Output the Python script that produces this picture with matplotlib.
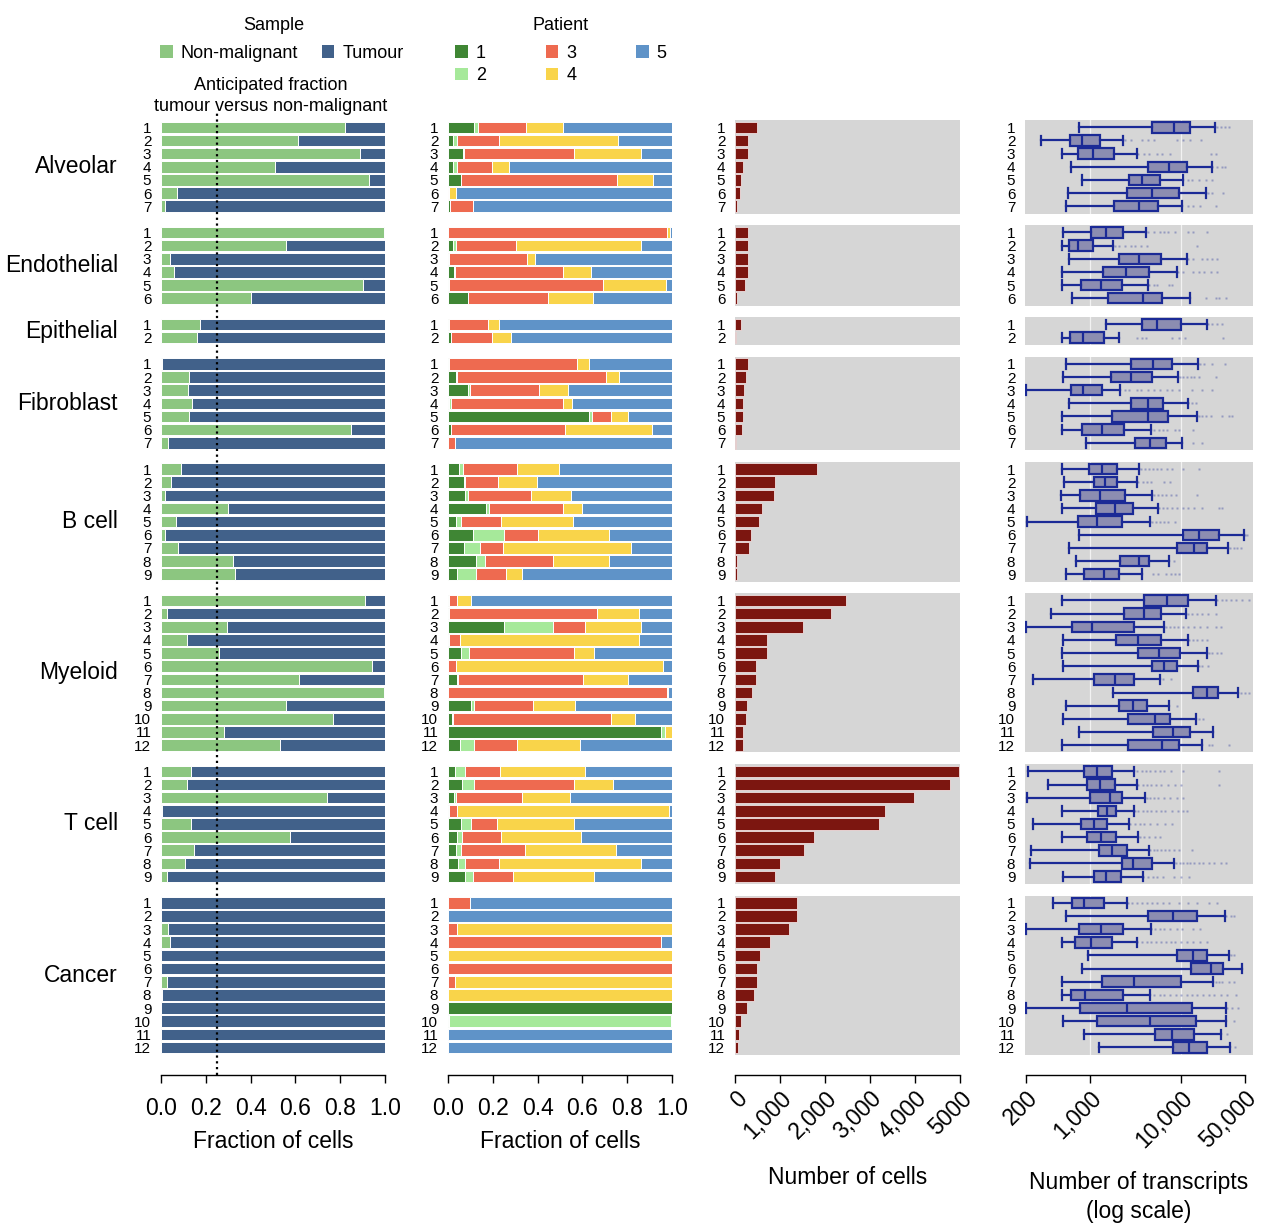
import numpy as np
import matplotlib
matplotlib.use('Agg')
import matplotlib.pyplot as plt
from matplotlib.patches import Patch
from matplotlib.ticker import FixedLocator, NullLocator, FixedFormatter

plt.rcParams['font.family'] = ['Liberation Sans', 'DejaVu Sans']

# ---------------- data ----------------
groups = ['Alveolar', 'Endothelial', 'Epithelial', 'Fibroblast', 'B cell', 'Myeloid', 'T cell', 'Cancer']
sample_labels = ['Non-malignant', 'Tumour']
patient_labels = ['1', '2', '3', '4', '5']
anticipated_fraction = 0.25

nonmalignant_frac = {
    'Alveolar': [0.82, 0.61, 0.89, 0.51, 0.93, 0.07, 0.02],
    'Endothelial': [0.995, 0.56, 0.04, 0.06, 0.90, 0.40],
    'Epithelial': [0.175, 0.16],
    'Fibroblast': [0.005, 0.125, 0.12, 0.14, 0.125, 0.85, 0.03],
    'B cell': [0.088, 0.046, 0.02, 0.30, 0.065, 0.02, 0.076, 0.32, 0.33],
    'Myeloid': [0.91, 0.025, 0.296, 0.118, 0.26, 0.94, 0.615, 0.995, 0.56, 0.77, 0.283, 0.533],
    'T cell': [0.135, 0.116, 0.74, 0.004, 0.132, 0.577, 0.147, 0.109, 0.025],
    'Cancer': [0.0, 0.0, 0.031, 0.039, 0.0, 0.0, 0.027, 0.004, 0.0, 0.0, 0.0, 0.0],
}

# fraction of cells from patients 1..5
patient_frac = {
    'Alveolar': [[0.118, 0.016, 0.214, 0.164, 0.488], [0.021, 0.021, 0.184, 0.533, 0.241],
                 [0.068, 0.004, 0.492, 0.296, 0.140], [0.022, 0.020, 0.154, 0.076, 0.728],
                 [0.060, 0.0, 0.696, 0.161, 0.083], [0.0, 0.0, 0.005, 0.029, 0.966],
                 [0.009, 0.0, 0.104, 0.0, 0.887]],
    'Endothelial': [[0.0, 0.0, 0.979, 0.012, 0.009], [0.022, 0.014, 0.269, 0.555, 0.140],
                    [0.003, 0.0, 0.348, 0.037, 0.612], [0.028, 0.004, 0.480, 0.125, 0.363],
                    [0.003, 0.0, 0.690, 0.280, 0.027], [0.091, 0.0, 0.357, 0.198, 0.354]],
    'Epithelial': [[0.003, 0.0, 0.177, 0.049, 0.771], [0.013, 0.0, 0.185, 0.082, 0.720]],
    'Fibroblast': [[0.003, 0.0, 0.571, 0.054, 0.372], [0.036, 0.006, 0.663, 0.060, 0.235],
                   [0.091, 0.007, 0.310, 0.129, 0.463], [0.003, 0.010, 0.499, 0.042, 0.446],
                   [0.628, 0.013, 0.087, 0.074, 0.198], [0.012, 0.0, 0.509, 0.390, 0.089],
                   [0.0, 0.0, 0.033, 0.0, 0.967]],
    'B cell': [[0.051, 0.017, 0.242, 0.187, 0.503], [0.070, 0.008, 0.144, 0.174, 0.604],
               [0.076, 0.015, 0.278, 0.179, 0.452], [0.168, 0.015, 0.329, 0.086, 0.402],
               [0.036, 0.021, 0.181, 0.319, 0.443], [0.110, 0.139, 0.153, 0.317, 0.281],
               [0.070, 0.074, 0.103, 0.568, 0.185], [0.124, 0.043, 0.300, 0.252, 0.281],
               [0.042, 0.082, 0.135, 0.070, 0.671]],
    'Myeloid': [[0.003, 0.0, 0.037, 0.061, 0.899], [0.003, 0.0, 0.664, 0.184, 0.149],
                [0.251, 0.216, 0.143, 0.250, 0.140], [0.003, 0.0, 0.052, 0.796, 0.149],
                [0.057, 0.038, 0.466, 0.089, 0.350], [0.0, 0.0, 0.037, 0.921, 0.042],
                [0.042, 0.003, 0.559, 0.201, 0.195], [0.0, 0.0, 0.978, 0.004, 0.018],
                [0.104, 0.012, 0.265, 0.184, 0.435], [0.019, 0.005, 0.702, 0.109, 0.165],
                [0.952, 0.018, 0.0, 0.030, 0.0], [0.052, 0.066, 0.192, 0.278, 0.412]],
    'T cell': [[0.033, 0.041, 0.158, 0.378, 0.390], [0.061, 0.057, 0.444, 0.176, 0.262],
               [0.028, 0.007, 0.294, 0.214, 0.457], [0.003, 0.0, 0.039, 0.943, 0.015],
               [0.057, 0.046, 0.114, 0.344, 0.439], [0.042, 0.022, 0.173, 0.355, 0.408],
               [0.036, 0.024, 0.282, 0.409, 0.249], [0.046, 0.031, 0.152, 0.634, 0.137],
               [0.074, 0.036, 0.182, 0.360, 0.348]],
    'Cancer': [[0.0, 0.0, 0.10, 0.0, 0.90], [0.0, 0.0, 0.0, 0.0, 1.0],
               [0.0, 0.0, 0.039, 0.961, 0.0], [0.0, 0.0, 0.951, 0.0, 0.049],
               [0.0, 0.0, 0.0, 1.0, 0.0], [0.0, 0.0, 1.0, 0.0, 0.0],
               [0.0, 0.0, 0.030, 0.970, 0.0], [0.0, 0.0, 0.0, 1.0, 0.0],
               [1.0, 0.0, 0.0, 0.0, 0.0], [0.005, 0.990, 0.0, 0.0, 0.005],
               [0.0, 0.0, 0.0, 0.0, 1.0], [0.0, 0.0, 0.0, 0.0, 1.0]],
}

n_cells = {
    'Alveolar': [496, 281, 281, 170, 133, 104, 37],
    'Endothelial': [296, 296, 281, 281, 215, 52],
    'Epithelial': [126, 15],
    'Fibroblast': [281, 237, 207, 185, 170, 148, 22],
    'B cell': [1815, 881, 859, 593, 526, 348, 319, 52, 52],
    'Myeloid': [2459, 2141, 1504, 704, 704, 459, 459, 378, 267, 237, 170, 170],
    'T cell': [4970, 4778, 3985, 3326, 3193, 1763, 1526, 1000, 889],
    'Cancer': [1370, 1370, 1193, 778, 563, 481, 481, 430, 274, 126, 96, 67],
}

# (whisker low, Q1, median, Q3, whisker high) of number of transcripts
transcripts_box = {
    'Alveolar': [(755, 4840, 8420, 12500, 23500), (292, 606, 814, 1290, 2330), (500, 736, 1094, 1841, 3260),
                 (622, 4300, 7360, 11500, 21600), (828, 2660, 3730, 5870, 10400), (572, 2570, 4760, 9400, 18600),
                 (553, 1841, 3430, 5620, 10100)],
    'Endothelial': [(508, 1030, 1517, 2310, 4160), (500, 592, 736, 1075, 1795), (597, 2100, 3430, 6070, 11700),
                    (500, 1406, 2510, 4410, 8930), (500, 794, 1336, 2230, 4300), (638, 1596, 3790, 6170, 12600)],
    'Epithelial': [(1493, 3700, 5400, 9890, 19000), (500, 612, 849, 1442, 2100)],
    'Fibroblast': [(545, 2850, 4960, 7880, 15200), (508, 1706, 2830, 4760, 9160), (200, 617, 841, 1350, 2140),
                   (597, 2800, 4370, 6380, 11800), (500, 1766, 4300, 7180, 14900), (500, 828, 1350, 2370, 4680),
                   (908, 3100, 4520, 6830, 10300)],
    'B cell': [(500, 988, 1350, 1985, 3460), (521, 1112, 1467, 1985, 3260), (483, 787, 1294, 2410, 4800),
               (500, 1170, 1888, 2946, 5530), (204, 748, 1209, 2250, 4520), (755, 10560, 15700, 26000, 48800),
               (587, 9080, 13800, 19000, 32300), (712, 2140, 3430, 4490, 7370), (553, 871, 1442, 2070, 3760)],
    'Myeloid': [(500, 3950, 7060, 12000, 24100), (376, 2390, 3890, 5970, 11200), (200, 632, 1066, 3020, 6550),
                (513, 1936, 3340, 5970, 11900), (500, 3400, 5670, 9720, 19200), (508, 4760, 6490, 9010, 15200),
                (237, 1120, 1871, 3070, 5870), (1795, 13600, 19000, 25100, 42300), (549, 2090, 3000, 4200, 7370),
                (513, 2640, 5170, 7620, 14400), (755, 4960, 8230, 12500, 22100), (500, 2640, 6120, 9480, 17100)],
    'T cell': [(208, 871, 1189, 1734, 3050), (345, 940, 1294, 1888, 3260), (204, 1014, 1664, 2250, 4050),
               (500, 1219, 1531, 1936, 3050), (241, 800, 1112, 1556, 2690), (500, 924, 1326, 1936, 3400),
               (227, 1271, 1749, 2550, 4440), (223, 2230, 3000, 4760, 8420), (513, 1112, 1493, 2180, 3790)],
    'Cancer': [(399, 632, 871, 1429, 2570), (545, 4370, 8150, 14800, 30200), (200, 767, 1315, 2330, 4640),
               (500, 689, 1022, 1749, 3260), (963, 9080, 13400, 19400, 33700), (828, 12800, 21100, 29000, 46800),
               (500, 1371, 3070, 9890, 22500), (500, 622, 886, 2330, 4600), (200, 781, 2530, 13000, 31000),
               (513, 1209, 4600, 14400, 31000), (871, 5170, 7870, 13900, 27300), (1271, 8070, 12300, 19000, 34300)],
}

transcripts_fliers = {
    'Alveolar': [[24500, 27000, 30000, 33000],
                 [2450, 2800, 3700, 4300, 5000, 9000, 10500, 12500, 16500],
                 [3400, 3900, 4500, 5400, 6200, 7600, 21000, 24000],
                 [22000, 25000, 28000, 30000],
                 [12000, 13000, 15500, 18500, 22000],
                 [19500, 22000, 29000],
                 [12000, 13500, 16000, 24000]],
    'Endothelial': [[4300, 5000, 5800, 6500, 7200, 8500, 12000, 13500, 19000],
                    [1900, 2100, 2400, 2800, 3100, 3600, 4200, 15000],
                    [12000, 13500, 17000, 19000, 21500, 25000],
                    [9300, 10500, 13500, 15500, 18000, 21000, 24500],
                    [4500, 5000, 5500, 7300, 8000],
                    [18500, 24000, 26000, 31000]],
    'Epithelial': [[19500, 22000, 25000, 28000],
                   [3300, 3700, 4100, 8000, 9500, 11000, 29000]],
    'Fibroblast': [[16000, 18000, 22000, 30000],
                   [9600, 10500, 11500, 12800, 14000, 15500, 24000],
                   [2400, 2700, 3300, 3600, 4300, 5100, 5800, 7000, 8000, 9500, 13000, 17000, 22000],
                   [12000, 13000, 14500],
                   [15500, 17000, 18500, 21000, 28000, 33000, 36000],
                   [5000, 5700, 6300, 7000, 8500, 9500, 13500],
                   [13500, 17000]],
    'B cell': [[3600, 4000, 4400, 4900, 5400, 6000, 7000, 8000, 10500, 15500],
               [3400, 3800, 4200, 4700, 6500, 7500],
               [5000, 5600, 6200, 6900, 7800, 8800, 15000],
               [5700, 6300, 7000, 8000, 9000, 10500, 12000, 14000, 17000, 26000, 28000],
               [4800, 5300, 5800, 6500, 7200, 8500],
               [50000, 52000],
               [34000, 37500, 41000, 45000],
               [8300],
               [4900, 5600, 6900, 7700, 8500, 9500]],
    'Myeloid': [[25000, 28000, 31000, 35000, 40000, 46000, 55000, 65000],
                [12000, 13000, 15000, 17000, 19500, 24000],
                [6800, 7500, 8300, 9200, 10500, 12000, 14000, 16000, 19000, 24000, 27000],
                [12300, 13500, 15000, 17000, 19000],
                [20000, 22000, 24500, 27000],
                [15500, 17000, 19500],
                [6400, 7800],
                [45000, 50000, 55000, 68000],
                [9100],
                [15500, 17500],
                [],
                [20000, 22000, 33000]],
    'T cell': [[3300, 3700, 4100, 4600, 5200, 5800, 6500, 7800, 10500, 26000],
               [3400, 3800, 4200, 4700, 5300, 6000, 7200, 8600, 10000, 26000],
               [4200, 4600, 5100, 5600, 6500, 7500, 9000, 10500],
               [3100, 3400, 3800, 4200, 4700, 5300, 6000, 6600, 8000, 9300, 10500, 11500],
               [2750, 3100, 3500, 3900, 4600, 5500, 6700, 8000],
               [3500, 3900, 4500, 5200, 5900],
               [4600, 5000, 5500, 6000, 6600, 7300, 8300, 9500, 13000],
               [8700, 9600, 10500, 11500, 12500, 14000, 15500, 17500, 20000, 23000, 27000, 31000],
               [3800, 4300, 4900, 5500, 6300, 8300, 10000, 12300]],
    'Cancer': [[2600, 2900, 3300, 3700, 4200, 4800, 5400, 6300, 7300, 9500, 12000, 15000, 20000, 25000],
               [31000, 35000, 38000],
               [4700, 5200, 5800, 6500, 7600, 9000, 10300, 13500, 16000],
               [3300, 3700, 4200, 4700, 5300, 6000, 6800, 7700, 8600, 10000, 11500, 13500, 16000, 19000],
               [35000, 38000],
               [],
               [24000, 26000, 28000, 33000, 38000],
               [5000, 5800, 6500, 7500, 8700, 10000, 11500, 13000, 15000, 17500, 20000, 23000, 27000, 32000, 40000],
               [32000, 36000, 42000],
               [38000],
               [32000],
               [39000]],
}

frac_ticks = [0.0, 0.2, 0.4, 0.6, 0.8, 1.0]
frac_ticklabels = ['0.0', '0.2', '0.4', '0.6', '0.8', '1.0']
count_ticks = [0, 1000, 2000, 3000, 4000, 5000]
count_ticklabels = ['0', '1,000', '2,000', '3,000', '4,000', '5000']
trans_ticks = [200, 1000, 10000, 50000]
trans_ticklabels = ['200', '1,000', '10,000', '50,000']
trans_grid = [1000, 10000]

# ---------------- style ----------------
c_nm = '#8cc680'
c_tu = '#41618a'
patient_colors = ['#3f8634', '#a6e99a', '#ee6a50', '#f9d44a', '#5f93c8']
c_count = '#7c1610'
c_grey = '#d6d6d6'
c_box_face = '#8c8db1'
c_box_edge = '#1b2a96'

W, H = 1264, 1232
fig = plt.figure(figsize=(W / 100, H / 100), dpi=100)

def fx(px):
    return px / W

def fy(py):
    return 1 - py / H

col_x = [(161, 385), (448, 672), (735, 960), (1025, 1253)]
pitch, pad, gap, top = 13.15, 1.5, 11.6, 120.0
axis_y = 1075.0

big_fs = 16.5
num_fs = 11
leg_fs = 13

bar_h = 0.88
edge_kw = dict(edgecolor='white', linewidth=0.7)

axes_grid = []
y_cur = top
for g in groups:
    n = len(nonmalignant_frac[g])
    h = n * pitch + pad
    row_axes = []
    for ci, (x0, x1) in enumerate(col_x):
        ax = fig.add_axes([fx(x0), fy(y_cur + h), fx(x1) - fx(x0), h / H])
        ext = pad / 2 / pitch
        ax.set_ylim(n + 0.5 + ext, 0.5 - ext)
        for s in ax.spines.values():
            s.set_visible(False)
        ax.set_yticks(np.arange(1, n + 1))
        ax.set_yticklabels([str(i) for i in range(1, n + 1)], fontsize=num_fs)
        ax.tick_params(axis='y', length=0, pad=7)
        ax.tick_params(axis='x', bottom=False, labelbottom=False)
        row_axes.append(ax)
    axes_grid.append((g, n, y_cur, h, row_axes))
    y_cur += h + gap

for g, n, y0, h, (a1, a2, a3, a4) in axes_grid:
    y = np.arange(1, n + 1)
    # column 1: sample fractions
    nm = np.array(nonmalignant_frac[g])
    tu = 1 - nm
    m = nm > 0
    a1.barh(y[m], nm[m], height=bar_h, color=c_nm, **edge_kw)
    m = tu > 0
    a1.barh(y[m], tu[m], left=nm[m], height=bar_h, color=c_tu, **edge_kw)
    a1.set_xlim(0, 1)
    a1.set_facecolor('none')

    # column 2: patient fractions
    pf = np.array(patient_frac[g], dtype=float)
    pf = pf / pf.sum(axis=1, keepdims=True)
    left = np.zeros(n)
    for k in range(5):
        w = pf[:, k]
        m = w > 0
        a2.barh(y[m], w[m], left=left[m], height=bar_h, color=patient_colors[k], **edge_kw)
        left = left + w
    a2.set_xlim(0, 1)
    a2.set_facecolor('none')

    # column 3: number of cells
    a3.set_facecolor(c_grey)
    a3.barh(y, n_cells[g], height=bar_h, color=c_count, edgecolor='#f0e0e0', linewidth=0.6)
    a3.set_xlim(0, 5000)

    # column 4: transcripts box plots
    a4.set_facecolor(c_grey)
    a4.set_xscale('log')
    a4.set_xlim(195, 61200)
    for gv in trans_grid:
        a4.axvline(gv, color='white', lw=0.9, alpha=0.7, zorder=0.5)
    stats = []
    for (lo, q1, med, q3, hi), fl in zip(transcripts_box[g], transcripts_fliers[g]):
        stats.append(dict(whislo=lo, q1=q1, med=med, q3=q3, whishi=hi, fliers=fl))
    lw = 1.6
    kw = dict(positions=y, widths=0.8, patch_artist=True, showfliers=True,
              boxprops=dict(facecolor=c_box_face, edgecolor=c_box_edge, linewidth=lw),
              medianprops=dict(color=c_box_edge, linewidth=lw),
              whiskerprops=dict(color=c_box_edge, linewidth=lw),
              capprops=dict(color=c_box_edge, linewidth=lw),
              flierprops=dict(marker='s', markersize=1.6, markerfacecolor=c_box_edge,
                              markeredgecolor='none', alpha=0.35),
              capwidths=0.72, manage_ticks=False)
    try:
        a4.bxp(stats, orientation='horizontal', **kw)
    except TypeError:
        a4.bxp(stats, vert=False, **kw)
    a4.xaxis.set_minor_locator(NullLocator())
    a4.tick_params(axis='x', which='both', bottom=False, labelbottom=False)
    a4.set_ylim(n + 0.5 + pad / 2 / pitch, 0.5 - pad / 2 / pitch)

    # group label
    fig.text(fx(118), fy(y0 + h / 2), g, ha='right', va='center', fontsize=big_fs)

# bottom axes on last row
g, n, y0, h, last_axes = axes_grid[-1]
bottom_px = y0 + h
offset_pt = (axis_y - bottom_px) * 0.72
specs = [
    (frac_ticks, frac_ticklabels, 0, 'Fraction of cells', (0, 1), 7.5),
    (frac_ticks, frac_ticklabels, 0, 'Fraction of cells', (0, 1), 7.5),
    (count_ticks, count_ticklabels, 45, 'Number of cells', (0, 5000), 16.5),
    (trans_ticks, trans_ticklabels, 45, 'Number of transcripts\n(log scale)', (200, 50000), 13.5),
]
for ax, (tk, tl, rot, lab, bounds, lp) in zip(last_axes, specs):
    sp = ax.spines['bottom']
    sp.set_visible(True)
    sp.set_position(('outward', offset_pt))
    sp.set_bounds(*bounds)
    sp.set_linewidth(1.0)
    ax.xaxis.set_major_locator(FixedLocator(tk))
    ax.xaxis.set_major_formatter(FixedFormatter(tl))
    ax.xaxis.set_minor_locator(NullLocator())
    ax.tick_params(axis='x', which='major', bottom=True, labelbottom=True, direction='out',
                   length=5.5, width=1.0, labelsize=big_fs, pad=10 if rot == 0 else 3)
    if rot:
        for t in ax.get_xticklabels():
            t.set_rotation(rot)
            t.set_rotation_mode('anchor')
            t.set_ha('right')
            t.set_va('top')
    ax.set_xlabel(lab, fontsize=big_fs, labelpad=lp, linespacing=1.3)

# anticipated fraction dotted line across column 1
ov = fig.add_axes([fx(161), fy(axis_y), fx(385) - fx(161), (axis_y - 112) / H])
ov.set_xlim(0, 1)
ov.set_ylim(0, 1)
ov.axis('off')
ov.patch.set_alpha(0)
ov.axvline(anticipated_fraction, color='black', lw=1.6, linestyle=(0, (1, 1.6)))

# legends
fig.text(fx(274), fy(26), 'Sample', ha='center', va='center', fontsize=leg_fs)
fig.text(fx(561), fy(26), 'Patient', ha='center', va='center', fontsize=leg_fs)
sample_handles = [Patch(facecolor=c, edgecolor='none') for c in (c_nm, c_tu)]
leg1 = fig.legend(sample_handles, sample_labels, ncol=2, loc='upper center',
                  bbox_to_anchor=(fx(282), fy(45)), frameon=False, fontsize=leg_fs,
                  handlelength=0.7, handleheight=0.7, handletextpad=0.45,
                  columnspacing=1.3, borderpad=0, borderaxespad=0, labelspacing=0.3)
patient_handles = [Patch(facecolor=c, edgecolor='none') for c in patient_colors]
leg2 = fig.legend(patient_handles, patient_labels, ncol=3, loc='upper center',
                  bbox_to_anchor=(fx(561), fy(45)), frameon=False, fontsize=leg_fs,
                  handlelength=0.7, handleheight=0.7, handletextpad=0.45,
                  columnspacing=3.3, borderpad=0, borderaxespad=0, labelspacing=0.3)

fig.text(fx(271), fy(96), 'Anticipated fraction\ntumour versus non-malignant', ha='center',
         va='center', fontsize=leg_fs, linespacing=1.35)

fig.savefig('out.png', dpi=100)
